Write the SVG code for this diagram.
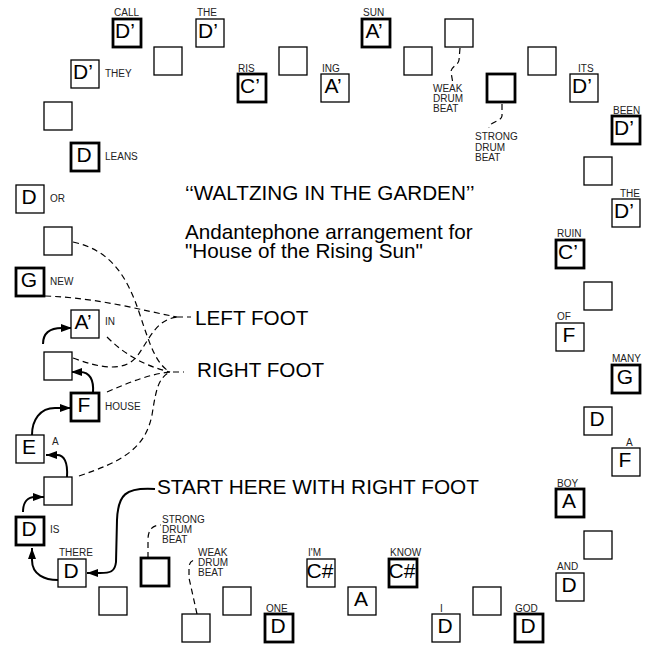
<svg xmlns="http://www.w3.org/2000/svg" width="650" height="646" viewBox="0 0 650 646">
<style>
rect.b{fill:#fff;stroke:#000;stroke-width:1.3}
rect.t{fill:#fff;stroke:#000;stroke-width:2.8}
text{font-family:"Liberation Sans",Arial,sans-serif;fill:#000}
.ch{font-size:21px;text-anchor:middle}
.l{font-size:10px;fill:#222}
.big{font-size:20.7px}
.d{fill:none;stroke:#000;stroke-width:1.2;stroke-dasharray:6 4}
.a{fill:none;stroke:#000;stroke-width:2}
</style>
<defs>
<marker id="ah" markerUnits="userSpaceOnUse" markerWidth="12" markerHeight="8" refX="11" refY="4" orient="auto">
<path d="M0,0 L11,4 L0,8 z" fill="#000"/>
</marker>
</defs>
<rect width="650" height="646" fill="#fff"/>

<g id="titles">
<text class="big" x="185" y="200">‘‘WALTZING IN THE GARDEN’’</text>
<text class="big" x="185" y="239">Andantephone arrangement for</text>
<text class="big" x="185" y="258">"House of the Rising Sun"</text>
<text class="big" x="195" y="325">LEFT FOOT</text>
<text class="big" x="197" y="377">RIGHT FOOT</text>
<text class="big" x="157" y="494" style="font-size:20.8px">START HERE WITH RIGHT FOOT</text>
</g>

<g id="connectors">
<path class="d" d="M73,242 C110,250 127,275 140,315 C150,345 156,364 170,372"/>
<path class="d" d="M45,296 C100,298 140,310 177,317"/>
<path class="d" d="M107,337 C125,355 145,366 170,372"/>
<path class="d" d="M73,358 C100,368 125,373 138,355 C150,338 156,320 177,317"/>
<path class="d" d="M107,392 C130,382 150,374 170,372"/>
<path class="d" d="M79,476 C120,462 145,450 152,415 C156,390 158,378 170,372"/>
<path class="d" d="M177,317 L191,317"/>
<path class="d" d="M173,372 L184,372" stroke-dasharray="11 0"/>
<path class="d" d="M460,48 L459,60 C458,66 451,66 451,72 L453,84"/>
<path class="d" d="M502,104 L502,116 C501,122 490,121 489,128"/>
<path class="d" d="M148,558 L148,540 C148,530 152,525 161,525"/>
<path class="d" d="M197,614 L189,578 L189,568 C189,562 192,560 196,560"/>
<path class="a" marker-end="url(#ah)" d="M43,344 C43,333 50,328 62,328 L72,328"/>
<path class="a" marker-end="url(#ah)" d="M93,393 C94,380 90,372 80,372 L71,372"/>
<path class="a" marker-end="url(#ah)" d="M32,435 C32,420 40,408 55,408 L71,408"/>
<path class="a" marker-end="url(#ah)" d="M67,477 C68,462 64,455 57,455 L46,455"/>
<path class="a" marker-end="url(#ah)" d="M23,512 C23,502 28,497 35,497 L44,497"/>
<path class="a" marker-end="url(#ah)" d="M58,580 C45,580 32,575 32,560 L32,548"/>
<path class="a" marker-end="url(#ah)" d="M155,489 C125,487 118,495 117,520 L116,562 C115,572 110,573 100,573 L87,573"/>
</g>

<g id="n1"><rect class="t" x="113" y="19" width="28" height="28"/><text class="ch" x="125" y="38">D’</text><text class="l" x="114" y="16">CALL</text></g>
<g id="n2"><rect class="b" x="196" y="19" width="28" height="28"/><text class="ch" x="208" y="38">D’</text><text class="l" x="197" y="16">THE</text></g>
<g id="n3"><rect class="b" x="154" y="47" width="28" height="28"/></g>
<g id="n4"><rect class="b" x="71" y="60" width="28" height="28"/><text class="ch" x="83" y="79">D’</text><text class="l" x="105" y="77">THEY</text></g>
<g id="n5"><rect class="b" x="44" y="102" width="28" height="28"/></g>
<g id="n6"><rect class="t" x="71" y="143" width="28" height="28"/><text class="ch" x="84" y="162">D</text><text class="l" x="105" y="160">LEANS</text></g>
<g id="n7"><rect class="b" x="16" y="185" width="28" height="28"/><text class="ch" x="29" y="204">D</text><text class="l" x="50" y="202">OR</text></g>
<g id="n8"><rect class="t" x="238" y="74" width="28" height="28"/><text class="ch" x="250" y="93">C’</text><text class="l" x="238" y="72">RIS</text></g>
<g id="n9"><rect class="b" x="279" y="47" width="28" height="28"/></g>
<g id="n10"><rect class="b" x="321" y="74" width="28" height="28"/><text class="ch" x="333" y="93">A’</text><text class="l" x="322" y="72">ING</text></g>
<g id="n11"><rect class="t" x="362" y="19" width="28" height="28"/><text class="ch" x="374" y="38">A’</text><text class="l" x="363" y="16">SUN</text></g>
<g id="n12"><rect class="b" x="404" y="47" width="28" height="28"/></g>
<g id="n13"><rect class="b" x="445" y="19" width="28" height="28"/><text class="l" x="433" y="92">WEAK</text><text class="l" x="433" y="102">DRUM</text><text class="l" x="433" y="112">BEAT</text></g>
<g id="n14"><rect class="t" x="487" y="74" width="28" height="28"/><text class="l" x="475" y="140">STRONG</text><text class="l" x="475" y="151">DRUM</text><text class="l" x="475" y="161">BEAT</text></g>
<g id="n15"><rect class="b" x="528" y="47" width="28" height="28"/></g>
<g id="n16"><rect class="b" x="570" y="74" width="28" height="28"/><text class="ch" x="582" y="93">D’</text><text class="l" x="578" y="72">ITS</text></g>
<g id="n17"><rect class="t" x="612" y="116" width="28" height="28"/><text class="ch" x="624" y="135">D’</text><text class="l" x="613" y="114">BEEN</text></g>
<g id="n18"><rect class="b" x="584" y="157" width="28" height="28"/></g>
<g id="n19"><rect class="b" x="612" y="199" width="28" height="28"/><text class="ch" x="624" y="218">D’</text><text class="l" x="620" y="197">THE</text></g>
<g id="n20"><rect class="t" x="556" y="240" width="28" height="28"/><text class="ch" x="568" y="259">C’</text><text class="l" x="557" y="237">RUIN</text></g>
<g id="n21"><rect class="b" x="584" y="282" width="28" height="28"/></g>
<g id="n22"><rect class="b" x="556" y="323" width="28" height="28"/><text class="ch" x="569" y="342">F</text><text class="l" x="557" y="320">OF</text></g>
<g id="n23"><rect class="t" x="612" y="365" width="28" height="28"/><text class="ch" x="625" y="384">G</text><text class="l" x="612" y="362">MANY</text></g>
<g id="n24"><rect class="b" x="584" y="407" width="28" height="28"/><text class="ch" x="597" y="426">D</text></g>
<g id="n25"><rect class="b" x="612" y="448" width="28" height="28"/><text class="ch" x="625" y="467">F</text><text class="l" x="626" y="446">A</text></g>
<g id="n26"><rect class="t" x="556" y="489" width="28" height="28"/><text class="ch" x="569" y="508">A</text><text class="l" x="557" y="487">BOY</text></g>
<g id="n27"><rect class="b" x="584" y="531" width="28" height="28"/></g>
<g id="n28"><rect class="b" x="556" y="573" width="28" height="28"/><text class="ch" x="569" y="592">D</text><text class="l" x="557" y="570">AND</text></g>
<g id="n29"><rect class="t" x="515" y="614" width="28" height="28"/><text class="ch" x="528" y="633">D</text><text class="l" x="515" y="612">GOD</text></g>
<g id="n30"><rect class="b" x="473" y="587" width="28" height="28"/></g>
<g id="n31"><rect class="b" x="432" y="614" width="28" height="28"/><text class="ch" x="445" y="633">D</text><text class="l" x="440" y="612">I</text></g>
<g id="n32"><rect class="t" x="389" y="559" width="28" height="28"/><text class="ch" x="402" y="578">C#</text><text class="l" x="390" y="556">KNOW</text></g>
<g id="n33"><rect class="b" x="348" y="587" width="28" height="28"/><text class="ch" x="361" y="606">A</text></g>
<g id="n34"><rect class="b" x="307" y="559" width="28" height="28"/><text class="ch" x="320" y="578">C#</text><text class="l" x="308" y="556">I'M</text></g>
<g id="n35"><rect class="t" x="265" y="614" width="28" height="28"/><text class="ch" x="278" y="633">D</text><text class="l" x="266" y="612">ONE</text></g>
<g id="n36"><rect class="b" x="223" y="587" width="28" height="28"/></g>
<g id="n37"><rect class="b" x="182" y="614" width="28" height="28"/><text class="l" x="198" y="556">WEAK</text><text class="l" x="198" y="566">DRUM</text><text class="l" x="198" y="576">BEAT</text></g>
<g id="n38"><rect class="t" x="141" y="558" width="28" height="28"/><text class="l" x="162" y="523">STRONG</text><text class="l" x="162" y="533">DRUM</text><text class="l" x="162" y="543">BEAT</text></g>
<g id="n39"><rect class="b" x="99" y="587" width="28" height="28"/></g>
<g id="n40"><rect class="b" x="58" y="559" width="28" height="28"/><text class="ch" x="71" y="578">D</text><text class="l" x="59" y="556">THERE</text></g>
<g id="n41"><rect class="t" x="16" y="517" width="28" height="28"/><text class="ch" x="29" y="536">D</text><text class="l" x="50" y="533">IS</text></g>
<g id="n42"><rect class="b" x="44" y="477" width="28" height="28"/></g>
<g id="n43"><rect class="b" x="16" y="435" width="28" height="28"/><text class="ch" x="29" y="454">E</text><text class="l" x="52" y="445">A</text></g>
<g id="n44"><rect class="t" x="71" y="393" width="28" height="28"/><text class="ch" x="84" y="412">F</text><text class="l" x="105" y="410">HOUSE</text></g>
<g id="n45"><rect class="b" x="44" y="352" width="28" height="28"/></g>
<g id="n46"><rect class="b" x="71" y="310" width="28" height="28"/><text class="ch" x="83" y="329">A’</text><text class="l" x="105" y="325">IN</text></g>
<g id="n47"><rect class="t" x="16" y="268" width="28" height="28"/><text class="ch" x="29" y="287">G</text><text class="l" x="50" y="285">NEW</text></g>
<g id="n48"><rect class="b" x="44" y="227" width="28" height="28"/></g>
</svg>
